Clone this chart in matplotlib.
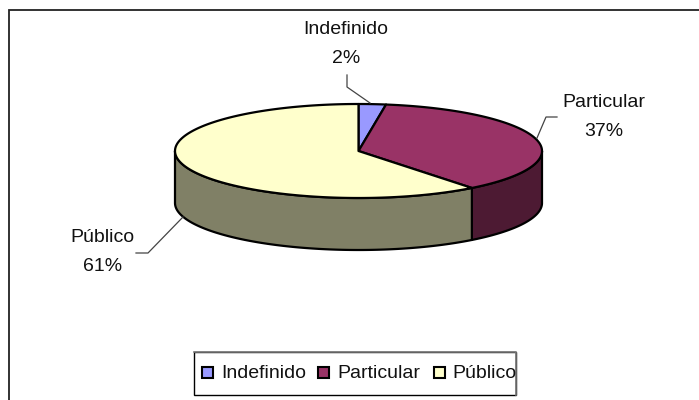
import numpy as np
import matplotlib
matplotlib.use('Agg')
import matplotlib.pyplot as plt
from matplotlib.patches import Polygon, Rectangle

categories = ['Indefinido', 'Particular', 'Público']
shares = [2.4, 37.0, 60.6]
top_colors = ['#9999FF', '#993366', '#FFFFCC']
side_colors = ['#4D4D80', '#4D1A33', '#808066']

plt.rcParams['font.family'] = ['Liberation Sans', 'DejaVu Sans']

fig = plt.figure(figsize=(6.99, 4.0), dpi=100)
ax = fig.add_axes([0, 0, 1, 1])
ax.set_xlim(0, 699)
ax.set_ylim(400, 0)
ax.axis('off')

# chart frame, runs off the right and bottom of the picture
ax.add_patch(Rectangle((9, 10), 700, 400, fc='white', ec='#222222', lw=1.3))

cx, cy, rx, ry, depth = 358.5, 151, 183.5, 47, 52


def rim(t):
    return cx + rx * np.sin(t), cy - ry * np.cos(t)


edges = np.radians(np.concatenate([[0], np.cumsum(shares)]) * 3.6)

# sides first, only the front half of the disc shows
for i in range(3):
    a = max(edges[i], np.pi / 2)
    b = min(edges[i + 1], 3 * np.pi / 2)
    if b <= a:
        continue
    t = np.linspace(a, b, 120)
    x, y = rim(t)
    pts = np.r_[np.c_[x, y], np.c_[x[::-1], y[::-1] + depth]]
    ax.add_patch(Polygon(pts, fc=side_colors[i], ec='black', lw=1.6, joinstyle='round'))

# top wedges
for i in range(3):
    t = np.linspace(edges[i], edges[i + 1], 200)
    x, y = rim(t)
    pts = np.r_[[[cx, cy]], np.c_[x, y]]
    ax.add_patch(Polygon(pts, fc=top_colors[i], ec='black', lw=1.6, joinstyle='round'))

# data labels, two lines each
label_pos = [(346, 34), (603.5, 107), (102.5, 242)]
for c, s, (lx, ly) in zip(categories, shares, label_pos):
    ax.text(lx, ly, c, ha='center', va='baseline', fontsize=14, color='#111111')
    ax.text(lx, ly + 29, f'{round(s)}%', ha='center', va='baseline', fontsize=14, color='#111111')

# leader lines
ax.plot([347, 347, 370], [75, 87, 103], color='#444444', lw=0.9)
ax.plot([557, 546, 537], [117, 117, 138], color='#444444', lw=0.9)
ax.plot([136, 148, 183], [253, 253, 217], color='#444444', lw=0.9)

# legend box, drawn by hand to keep the tight right edge
ax.add_patch(Rectangle((194, 352), 322, 43, fc='white', ec='black', lw=1.0))
ax.plot([194, 516, 516], [352, 352, 395], color='#777777', lw=1.2)
swatch_x = [202, 318, 434]
text_x = [221, 337, 452]
for c, col, sx, tx in zip(categories, top_colors, swatch_x, text_x):
    ax.add_patch(Rectangle((sx, 367), 11, 11, fc=col, ec='black', lw=1.5))
    ax.text(tx, 378, c, ha='left', va='baseline', fontsize=14, color='#111111')

fig.savefig('out.png', dpi=100)
